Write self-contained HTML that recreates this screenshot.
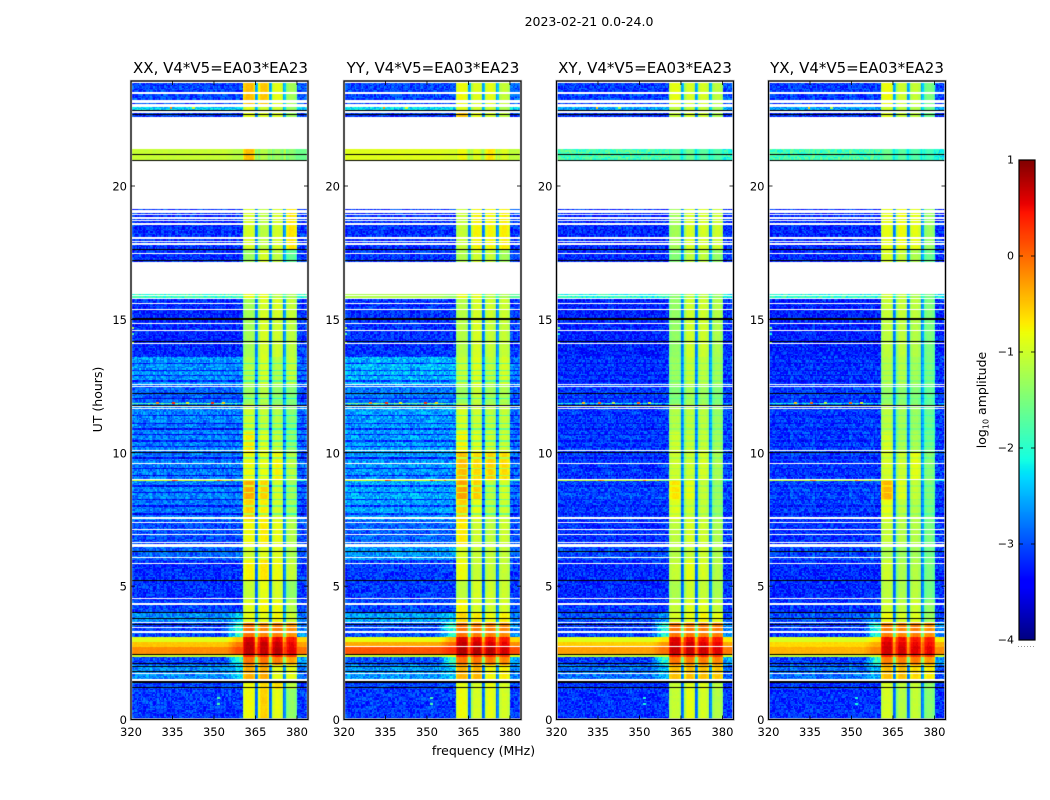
<!DOCTYPE html>
<html lang="en">
<head>
<meta charset="utf-8">
<title>2023-02-21 waterfall</title>
<style>
html,body{margin:0;padding:0;background:#fff;width:1050px;height:800px;overflow:hidden}
#figure{position:relative;width:1050px;height:800px;background:#fff}
canvas{position:absolute;display:block}
svg{position:absolute;left:0;top:0}
text{font-family:"DejaVu Sans","Liberation Sans",sans-serif;fill:#000}
</style>
</head>
<body>
<div id="figure">
<canvas id="p0" width="177" height="639" style="left:131px;top:81px"></canvas>
<canvas id="p1" width="177" height="639" style="left:344px;top:81px"></canvas>
<canvas id="p2" width="177" height="639" style="left:557px;top:81px"></canvas>
<canvas id="p3" width="177" height="639" style="left:769px;top:81px"></canvas>
<canvas id="cb" width="16" height="480" style="left:1019px;top:160px"></canvas>
<svg id="ov" width="1050" height="800" viewBox="0 0 1050 800">
<text x="589" y="26" text-anchor="middle" font-size="12.5">2023-02-21 0.0-24.0</text>
<text x="220.5" y="73" text-anchor="middle" font-size="15">XX, V4*V5=EA03*EA23</text>
<text x="433" y="73" text-anchor="middle" font-size="15">YY, V4*V5=EA03*EA23</text>
<text x="645" y="73" text-anchor="middle" font-size="15">XY, V4*V5=EA03*EA23</text>
<text x="857" y="73" text-anchor="middle" font-size="15">YX, V4*V5=EA03*EA23</text>
<text x="483.5" y="755" text-anchor="middle" font-size="12.5">frequency (MHz)</text>
<text x="0" y="0" transform="translate(102,399.5) rotate(-90)" text-anchor="middle" font-size="12.5">UT (hours)</text>
<text x="0" y="0" transform="translate(986,400) rotate(-90)" text-anchor="middle" font-size="12.5">log<tspan font-size="8" dy="2.5">10</tspan><tspan dy="-2.5"> amplitude</tspan></text>
</svg>
</div>
<script>
// Axis tick labels
const freqTicks = [320, 335, 350, 365, 380];
const utTicks = [0, 5, 10, 15, 20];
const colorTicks = [1, 0, -1, -2, -3, -4];

// Frequency layout in half-MHz bins
const binCount = 128;
const subbandFirstBin = [81, 92, 102, 112];
const subbandEndBin = [90, 100, 110, 120];
const gapFirstBin = [90, 100, 110];
const haloFirstBin = 68;
const haloFullBin = 76;

// Time calibration between block table and axis
const UT_CAL = 0.9972;
const rowHours = 0.05;

// UT edges of the observation blocks (hours)
const utEdges = [0,1.18,1.48,2.05,2.36,2.46,2.74,2.94,3.12,3.63,4.04,4.5,5.24,6.0,6.56,7.5,8.25,8.97,9.03,10.05,10.8,11.86,11.94,12.58,13.63,15.0,15.86,15.98,17.2,17.65,19.2,21.03,21.46,22.66,22.9,23.04,23.93];

// log10 amplitude per block: low band, halo, subbands 1-4, tail, subband gap
const xxLevels = [
[-3.1,-3.1,-0.8,-0.55,-0.85,-1.35,-3.1,-2.9],
[-3.05,-3.05,-0.8,-0.6,-0.6,-1.1,-3.05,-2.9],
[-2.7,-2.4,-0.35,-0.35,-0.85,-0.85,-2.85,-2.8],
[-3.05,-2.0,-0.05,-0.05,-0.1,-0.3,-2.6,-1.6],
[-1.0,-0.9,0.4,0.4,0.45,0.3,-0.9,-0.3],
[-0.2,0.15,0.75,0.72,0.75,0.6,-0.05,0.0],
[-0.5,-0.1,0.72,0.68,0.68,0.55,-0.3,-0.2],
[-0.9,-0.5,0.62,0.55,0.55,0.45,-0.6,-0.5],
[-3.05,-2.0,-0.05,-0.15,-0.1,-0.2,-2.7,-1.7],
[-2.7,-2.4,-0.85,-0.85,-0.75,-1.0,-2.8,-2.7],
[-3.05,-3.05,-0.9,-0.75,-0.8,-1.15,-3.05,-2.8],
[-3.15,-3.15,-1.05,-0.85,-0.95,-1.35,-3.1,-2.9],
[-3.15,-3.15,-0.75,-0.65,-0.8,-1.05,-3.1,-2.9],
[-2.9,-2.85,-1.0,-0.9,-0.9,-1.2,-3.0,-2.8],
[-3.0,-3.0,-0.8,-0.7,-0.85,-1.15,-3.0,-2.8],
[-2.8,-2.8,-0.55,-0.7,-0.95,-1.25,-2.95,-2.8],
[-2.75,-2.75,-0.35,-0.55,-0.95,-1.25,-2.9,-2.8],
[-1.0,-1.4,-0.85,-0.9,-1.0,-1.2,-1.9,-2.4],
[-2.8,-2.8,-0.8,-0.85,-0.75,-1.1,-2.9,-2.7],
[-2.75,-2.75,-0.7,-0.9,-1.05,-1.35,-2.85,-2.7],
[-2.75,-2.75,-1.0,-1.05,-1.15,-1.4,-2.85,-2.7],
[-1.7,-1.9,-1.3,-1.3,-1.4,-1.5,-2.4,-2.4],
[-2.9,-2.9,-1.3,-1.15,-1.35,-1.45,-3.0,-2.7],
[-2.65,-2.65,-1.15,-0.95,-1.15,-1.05,-2.85,-2.6],
[-3.2,-3.2,-1.25,-0.95,-1.0,-1.1,-3.1,-2.8],
[-3.2,-3.2,-1.25,-0.95,-0.95,-1.05,-3.15,-2.8],
[-1.9,-1.9,-0.85,-0.85,-1.1,-1.2,-2.0,-2.0],
null,
[-3.15,-3.15,-1.3,-0.95,-1.1,-1.65,-3.1,-2.7],
[-3.15,-3.15,-0.95,-1.1,-0.95,-0.65,-3.1,-2.8],
null,
[-1.05,-1.15,-0.45,-1.15,-1.3,-1.4,-1.6,-1.4],
null,
[-3.1,-3.1,-0.85,-0.9,-0.9,-1.3,-3.0,-2.8],
[-2.3,-2.3,-0.9,-1.0,-1.0,-1.3,-2.3,-2.5],
[-3.05,-3.05,-0.45,-0.5,-0.85,-1.25,-2.95,-2.6]
];
const yyLevels = [
[-3.1,-3.1,-0.8,-0.95,-0.85,-0.95,-3.1,-2.9],
[-3.05,-3.05,-0.85,-0.95,-0.8,-0.95,-3.05,-2.9],
[-2.65,-2.4,-0.4,-0.4,-0.75,-0.7,-2.8,-2.8],
[-3.0,-2.0,-0.05,-0.05,-0.05,-0.15,-2.6,-1.5],
[-1.0,-0.8,0.4,0.4,0.4,0.3,-0.9,-0.3],
[0.1,0.3,0.78,0.78,0.75,0.65,0.15,0.1],
[-0.35,0.0,0.72,0.68,0.62,0.55,-0.2,-0.2],
[-0.85,-0.4,0.62,0.55,0.5,0.45,-0.6,-0.5],
[-3.0,-2.0,-0.05,-0.1,-0.1,-0.15,-2.7,-1.7],
[-2.6,-2.4,-0.6,-0.7,-0.8,-0.7,-2.8,-2.7],
[-3.05,-3.05,-0.75,-0.95,-1.0,-0.95,-3.05,-2.8],
[-3.1,-3.1,-1.1,-0.95,-1.0,-1.0,-3.1,-2.9],
[-3.1,-3.1,-0.8,-1.05,-1.05,-1.05,-3.1,-2.9],
[-2.65,-2.6,-0.95,-1.05,-1.05,-1.05,-2.95,-2.8],
[-2.9,-2.9,-0.7,-1.0,-1.1,-1.0,-3.0,-2.8],
[-2.6,-2.6,-0.55,-0.85,-1.1,-1.0,-2.9,-2.8],
[-2.55,-2.55,-0.3,-0.55,-1.1,-0.95,-2.85,-2.8],
[-1.0,-1.3,-0.6,-0.7,-0.8,-0.85,-1.9,-2.4],
[-2.65,-2.65,-0.45,-0.6,-0.55,-0.6,-2.85,-2.7],
[-2.6,-2.6,-0.75,-0.9,-1.0,-1.0,-2.85,-2.7],
[-2.6,-2.6,-0.95,-1.0,-1.1,-1.05,-2.85,-2.7],
[-1.5,-1.8,-1.2,-1.15,-1.3,-1.3,-2.4,-2.4],
[-2.8,-2.8,-1.3,-1.05,-1.25,-1.2,-2.95,-2.7],
[-2.5,-2.5,-1.05,-0.9,-1.1,-0.95,-2.8,-2.6],
[-3.15,-3.15,-1.15,-0.95,-1.05,-1.05,-3.1,-2.8],
[-3.15,-3.15,-1.15,-0.95,-1.0,-1.0,-3.15,-2.8],
[-1.2,-1.4,-0.85,-0.85,-1.1,-1.2,-1.7,-2.0],
null,
[-3.15,-3.15,-1.2,-1.0,-1.05,-1.25,-3.1,-2.7],
[-3.15,-3.15,-1.05,-0.75,-0.75,-0.7,-3.1,-2.8],
null,
[-0.9,-0.95,-0.8,-0.9,-0.65,-0.9,-1.1,-1.3],
null,
[-3.1,-3.1,-0.45,-0.85,-0.95,-1.1,-3.0,-2.8],
[-2.3,-2.3,-0.9,-1.0,-1.0,-1.2,-2.3,-2.5],
[-3.05,-3.05,-0.8,-0.9,-0.85,-1.05,-2.95,-2.6]
];
const xyLevels = [
[-3.15,-3.15,-1.05,-0.85,-0.95,-1.15,-3.15,-2.9],
[-3.15,-3.15,-1.05,-0.9,-0.9,-1.1,-3.15,-2.9],
[-2.85,-2.5,-0.45,-0.45,-0.45,-0.5,-2.95,-2.8],
[-3.1,-2.0,-0.05,-0.1,-0.1,-0.15,-2.6,-1.6],
[-1.05,-0.95,0.4,0.4,0.4,0.3,-0.9,-0.3],
[-0.3,-0.05,0.7,0.7,0.68,0.6,-0.1,-0.1],
[-0.55,-0.25,0.65,0.65,0.6,0.55,-0.35,-0.2],
[-0.9,-0.65,0.58,0.52,0.5,0.45,-0.7,-0.5],
[-3.1,-2.0,-0.05,-0.1,-0.1,-0.1,-2.7,-1.7],
[-3.0,-2.7,-0.95,-0.85,-0.75,-0.85,-3.0,-2.8],
[-3.15,-3.15,-1.05,-0.9,-0.9,-1.05,-3.15,-2.8],
[-3.2,-3.2,-1.2,-1.0,-1.05,-1.2,-3.15,-2.9],
[-3.2,-3.2,-1.05,-0.85,-0.95,-1.15,-3.15,-2.9],
[-3.05,-3.0,-1.15,-1.05,-1.0,-1.2,-3.1,-2.8],
[-3.15,-3.15,-1.1,-0.95,-1.0,-1.2,-3.1,-2.8],
[-3.1,-3.1,-0.9,-1.0,-1.05,-1.3,-3.1,-2.8],
[-3.05,-3.05,-0.65,-0.85,-1.05,-1.3,-3.05,-2.8],
[-1.1,-1.5,-1.05,-1.1,-1.15,-1.3,-2.2,-2.4],
[-3.1,-3.1,-1.0,-1.0,-0.95,-1.2,-3.05,-2.7],
[-3.1,-3.1,-1.0,-1.05,-1.05,-1.25,-3.05,-2.7],
[-3.1,-3.1,-1.15,-1.1,-1.1,-1.3,-3.05,-2.7],
[-2.2,-2.3,-1.45,-1.3,-1.35,-1.5,-2.6,-2.5],
[-3.1,-3.1,-1.45,-1.25,-1.3,-1.45,-3.1,-2.7],
[-3.15,-3.15,-1.3,-1.05,-1.1,-1.25,-3.1,-2.7],
[-3.25,-3.25,-1.35,-1.0,-1.0,-1.2,-3.2,-2.8],
[-3.25,-3.25,-1.35,-1.0,-1.0,-1.15,-3.2,-2.8],
[-2.0,-2.0,-1.4,-1.1,-1.1,-1.3,-2.2,-2.2],
null,
[-3.2,-3.2,-1.45,-1.1,-1.1,-1.35,-3.15,-2.7],
[-3.2,-3.2,-1.25,-0.95,-0.95,-1.0,-3.15,-2.8],
null,
[-1.85,-1.85,-1.7,-1.6,-1.7,-1.75,-2.0,-2.2],
null,
[-3.15,-3.15,-1.05,-0.95,-1.0,-1.2,-3.1,-2.8],
[-2.6,-2.6,-1.1,-1.05,-1.05,-1.25,-2.6,-2.5],
[-3.1,-3.1,-0.85,-0.95,-0.95,-1.1,-3.0,-2.6]
];
const yxLevels = [
[-3.15,-3.15,-0.95,-1.15,-1.05,-1.4,-3.15,-2.9],
[-3.15,-3.15,-0.95,-1.1,-1.05,-1.35,-3.15,-2.9],
[-2.85,-2.5,-0.45,-0.45,-0.6,-0.7,-2.95,-2.8],
[-3.1,-2.0,-0.1,-0.1,-0.1,-0.25,-2.6,-1.6],
[-1.05,-0.95,0.4,0.35,0.35,0.3,-0.9,-0.3],
[-0.4,-0.15,0.65,0.65,0.6,0.55,-0.2,-0.15],
[-0.6,-0.35,0.62,0.58,0.55,0.5,-0.4,-0.25],
[-0.95,-0.7,0.52,0.48,0.45,0.4,-0.75,-0.5],
[-3.1,-2.0,-0.1,-0.15,-0.1,-0.2,-2.7,-1.7],
[-3.0,-2.7,-0.8,-0.95,-0.9,-1.3,-3.0,-2.8],
[-3.15,-3.15,-1.0,-1.1,-1.0,-1.35,-3.15,-2.8],
[-3.2,-3.2,-1.1,-1.2,-1.1,-1.55,-3.15,-2.9],
[-3.2,-3.2,-1.0,-1.2,-1.15,-1.5,-3.15,-2.9],
[-3.05,-3.0,-1.2,-1.3,-1.25,-1.55,-3.1,-2.8],
[-3.15,-3.15,-1.05,-1.15,-1.15,-1.5,-3.1,-2.8],
[-3.1,-3.1,-0.85,-1.1,-1.15,-1.5,-3.1,-2.8],
[-3.05,-3.05,-0.4,-0.9,-1.05,-1.45,-3.05,-2.8],
[-1.1,-1.5,-0.9,-1.05,-1.1,-1.45,-2.2,-2.4],
[-3.1,-3.1,-0.95,-1.0,-0.85,-1.4,-3.05,-2.7],
[-3.1,-3.1,-0.95,-1.2,-1.2,-1.55,-3.05,-2.7],
[-3.1,-3.1,-1.1,-1.25,-1.3,-1.6,-3.05,-2.7],
[-2.2,-2.3,-1.35,-1.4,-1.5,-1.7,-2.6,-2.5],
[-3.1,-3.1,-1.35,-1.4,-1.45,-1.65,-3.1,-2.7],
[-3.15,-3.15,-1.15,-1.15,-1.25,-1.5,-3.1,-2.7],
[-3.25,-3.25,-1.1,-1.1,-1.15,-1.5,-3.2,-2.8],
[-3.25,-3.25,-1.05,-1.05,-1.1,-1.45,-3.2,-2.8],
[-2.0,-2.0,-1.0,-1.1,-1.2,-1.5,-2.2,-2.2],
null,
[-3.2,-3.2,-0.95,-1.05,-1.2,-1.6,-3.15,-2.7],
[-3.2,-3.2,-0.85,-0.8,-0.85,-1.3,-3.15,-2.8],
null,
[-1.85,-1.85,-1.6,-1.7,-1.75,-1.85,-2.1,-2.2],
null,
[-3.15,-3.15,-0.9,-1.05,-1.1,-1.55,-3.1,-2.8],
[-2.6,-2.6,-1.0,-1.1,-1.15,-1.55,-2.6,-2.5],
[-3.1,-3.1,-0.8,-1.0,-1.05,-1.5,-3.0,-2.6]
];
const panelLevels = [xxLevels, yyLevels, xyLevels, yxLevels];
const scanDimStrength = [1, 1, 0.35, 0.35];

// UT of flagged (no data) scans, drawn white
const whiteFlags = [[1.46,1.51],[1.71,1.75],[3.27,3.33],[3.43,3.47],[3.61,3.67],[4.32,4.38],[4.52,4.57],[5.85,5.89],[6.08,6.12],[6.47,6.61],[6.64,6.68],[6.95,6.99],[7.12,7.16],[7.38,7.42],[7.55,7.61],[9.0,9.04],[9.62,9.66],[10.1,10.15],[11.67,11.71],[11.76,11.79],[12.49,12.53],[12.56,12.61],[14.12,14.17],[14.6,14.64],[14.87,14.92],[15.4,15.43],[15.62,15.66],[15.81,15.86],[15.92,15.94],[17.53,17.55],[17.85,17.9],[17.96,18.0],[18.05,18.13],[18.6,18.68],[18.74,18.77],[18.83,18.88],[18.95,19.0],[19.05,19.15],[22.81,22.87],[23.04,23.14],[23.19,23.29],[23.53,23.58],[23.93,24.2]];
// UT of zero-amplitude scans, drawn black
const blackFlags = [[1.2,1.23],[1.39,1.43],[1.78,1.82],[2.0,2.03],[2.08,2.11],[2.44,2.48],[3.56,3.59],[3.78,3.81],[4.0,4.05],[5.21,5.25],[6.32,6.35],[10.03,10.07],[11.8,11.84],[12.25,12.28],[14.2,14.22],[15.0,15.08],[17.22,17.27],[17.65,17.68],[21.01,21.05],[21.22,21.26],[22.73,22.76],[22.88,22.91]];
// Extra flagged scan seen only in the YY and XY panels
const yyXyWhiteFlags = [[2.74,2.78]];
// Faint dips seen across low band
const dimScans = [7.7,8.0,8.25,8.5,8.75,9.2,9.44,9.8,10.27,10.49,10.72,10.91,11.13,11.4,12.1,12.74,12.94,13.14,13.36];
// Narrow interference specks: UT, MHz offset from 320, log10 amplitude
const speckUt = [9.0,9.0,9.0,9.0,9.0,11.9,11.9,11.9,11.9,11.9,14.72,14.5,14.15,0.8,0.6,23.0,23.0];
const speckOffset = [15,16,31,32,36,9,15,20,29,33,0,0,0,31,31,14,22];
const speckValue = [0.2,0.0,0.1,-0.4,-0.1,-0.2,0.3,-0.8,0.3,-0.6,-1.2,-1.8,-1.2,-1.8,-1.8,-0.2,-0.9];

// Fine speckle texture, hand-tuned to the reference's grain
const speckle = [0.12,-0.2,0.3,-0.05,-0.28,0.18,0.04,-0.14,0.26,-0.32,0.08,0.2,-0.1,0.34,-0.22,0,0.15,-0.26,0.1,-0.08,0.28,-0.18,0.06,-0.34,0.22,0.02,-0.12,0.32,-0.24,0.14,-0.04,0.24,-0.3,0.1,-0.16,0.2,-0.02,0.36,-0.36,0.05,-0.2,0.16,-0.1];

const AX_TOP = 81, AX_BOTTOM = 719.5, AX_WIDTH = 177;
const PX_PER_HOUR = 26.675;
const panelLeft = [131, 344, 556.5, 768.5];

function yPx(ut){ return AX_BOTTOM - ut * PX_PER_HOUR; }
function xPx(left, mhz){ return left + (mhz - 320) * AX_WIDTH / 64; }

const jetR = [[0,0],[0.35,0],[0.66,1],[0.89,1],[1,0.5]];
const jetG = [[0,0],[0.125,0],[0.375,1],[0.64,1],[0.91,0],[1,0]];
const jetB = [[0,0.5],[0.11,1],[0.34,1],[0.65,0],[1,0]];
function seg(s, t){
  for(let i = 1; i < s.length; i++){
    if(t <= s[i][0]){
      return s[i-1][1] + (s[i][1]-s[i-1][1]) * (t-s[i-1][0]) / (s[i][0]-s[i-1][0]);
    }
  }
  return s[s.length-1][1];
}
function colorOf(v){
  const t = Math.max(0, Math.min(1, (v + 4) / 5));
  return 'rgb(' + Math.round(255*seg(jetR,t)) + ',' + Math.round(255*seg(jetG,t)) + ',' + Math.round(255*seg(jetB,t)) + ')';
}
function cellValue(row, bin){
  if(bin >= 120) return row[6];
  if(bin < subbandFirstBin[0]){
    if(bin < haloFirstBin) return row[0];
    const f = Math.min(1, (bin - haloFirstBin) / (haloFullBin - haloFirstBin));
    return row[0] + (row[1] - row[0]) * f;
  }
  for(let g = 0; g < gapFirstBin.length; g++){
    if(bin === gapFirstBin[g]) return row[7];
    if(bin === gapFirstBin[g] + 1) return row[7] + 0.25;
  }
  for(let k = 0; k < 4; k++){
    if(bin >= subbandFirstBin[k] && bin < subbandEndBin[k]){
      const edge = Math.min(bin - subbandFirstBin[k], subbandEndBin[k] - 1 - bin);
      return row[2 + k] - (edge === 0 ? 0.28 : (edge === 1 ? 0.08 : 0));
    }
  }
  return row[0];
}
function drawPanel(idx){
  const ctx = document.getElementById('p' + idx).getContext('2d');
  const levels = panelLevels[idx];
  function cx(b){ return Math.round(b * AX_WIDTH / binCount); }
  function cy(ut){ return Math.round(yPx(ut * UT_CAL) - AX_TOP); }
  levels.forEach(function(row, b){
    if(!row) return;
    const t0 = utEdges[b], t1 = utEdges[b+1];
    for(let r = Math.floor(t0 / rowHours + 1e-6); r * rowHours < t1 - 1e-6; r++){
      const a = Math.max(t0, r * rowHours), c = Math.min(t1, (r + 1) * rowHours);
      const y0 = cy(c), y1 = Math.max(cy(a), y0 + 1);
      let dim = 0;
      dimScans.forEach(function(u){ if(u >= a && u < c) dim = 0.6 * scanDimStrength[idx]; });
      for(let bin = 0; bin < binCount; bin++){
        const inBand = bin >= subbandFirstBin[0] && bin < 120;
        const hash = (bin*bin*3 + r*r*7 + bin*r*5 + bin*13 + r*17 + idx*29) % speckle.length;
        const tex = speckle[hash] * (inBand ? 0.15 : (row[0] > -1.5 ? 0.12 : 1));
        ctx.fillStyle = colorOf(cellValue(row, bin) + tex - dim);
        ctx.fillRect(cx(bin), y0, cx(bin + 1) - cx(bin), y1 - y0);
      }
    }
  });
  speckUt.forEach(function(u, i){
    const b = speckOffset[i] * 2;
    ctx.fillStyle = colorOf(speckValue[i] - (idx > 1 ? 0.3 : 0));
    ctx.fillRect(cx(b), cy(u) - 1, cx(b + 2) - cx(b), 2);
  });
  function band(list, color){
    ctx.fillStyle = color;
    list.forEach(function(f){
      const y0 = cy(f[1]);
      ctx.fillRect(0, y0, AX_WIDTH, Math.max(1, cy(f[0]) - y0));
    });
  }
  band(whiteFlags, '#fff');
  if(idx === 1 || idx === 2) band(yyXyWhiteFlags, '#fff');
  band(blackFlags, '#000');
}
[0,1,2,3].forEach(drawPanel);

// Colorbar gradient
(function(){
  const ctx = document.getElementById('cb').getContext('2d');
  for(let y = 0; y < 480; y++){
    ctx.fillStyle = colorOf(1 - 5 * (y + 0.5) / 480);
    ctx.fillRect(0, y, 16, 1);
  }
})();

// Axes overlay
const NS = 'http://www.w3.org/2000/svg';
const ov = document.getElementById('ov');
function mk(tag, attrs){
  const el = document.createElementNS(NS, tag);
  for(const k in attrs) el.setAttribute(k, attrs[k]);
  ov.appendChild(el);
  return el;
}
panelLeft.forEach(function(left){
  const halo = mk('rect', {x:left, y:AX_TOP, width:AX_WIDTH, height:AX_BOTTOM-AX_TOP, fill:'none', stroke:'#bbb', 'stroke-width':2.4});
  
  
  const frame = mk('rect', {x:left, y:AX_TOP, width:AX_WIDTH, height:AX_BOTTOM-AX_TOP, fill:'none', stroke:'#000', 'stroke-width':1.1});
  
  
  freqTicks.forEach(function(f){
    const x = xPx(left, f);
    const t1 = mk('line', {x1:x, x2:x, y1:AX_BOTTOM, y2:AX_BOTTOM-4, stroke:'#000', 'stroke-width':0.8});
    
    
    const t2 = mk('line', {x1:x, x2:x, y1:AX_TOP, y2:AX_TOP+4, stroke:'#000', 'stroke-width':0.8});
    
    
    const lab = mk('text', {x:x, y:736, 'text-anchor':'middle', 'font-size':11.5});
    lab.textContent = String(f);
    
    
  });
  utTicks.forEach(function(u){
    const y = yPx(u);
    const t1 = mk('line', {x1:left, x2:left+4, y1:y, y2:y, stroke:'#000', 'stroke-width':0.8});
    
    
    const t2 = mk('line', {x1:left+AX_WIDTH, x2:left+AX_WIDTH-4, y1:y, y2:y, stroke:'#000', 'stroke-width':0.8});
    
    
    const lab = mk('text', {x:left-4, y:y+4.5, 'text-anchor':'end', 'font-size':11.5});
    lab.textContent = String(u);
    
    
  });
});
// Colorbar frame and ticks
const cbFrame = mk('rect', {x:1019, y:160, width:16, height:480, fill:'none', stroke:'#000', 'stroke-width':1.2});


colorTicks.forEach(function(v){
  const y = 160 + (1 - v) * 96;
  const a = mk('line', {x1:1019, x2:1023, y1:y, y2:y, stroke:'#000', 'stroke-width':0.8});
  
  
  const b = mk('line', {x1:1031, x2:1035, y1:y, y2:y, stroke:'#000', 'stroke-width':0.8});
  
  
  const lab = mk('text', {x:1014, y:y+3.5, 'text-anchor':'end', 'font-size':11});
  lab.textContent = String(v).replace('-', '\u2212');
  
  
});
const cbDots = mk('line', {x1:1018, x2:1035, y1:646.5, y2:646.5, stroke:'#999', 'stroke-width':1, 'stroke-dasharray':'1 2'});


</script>
</body>
</html>
